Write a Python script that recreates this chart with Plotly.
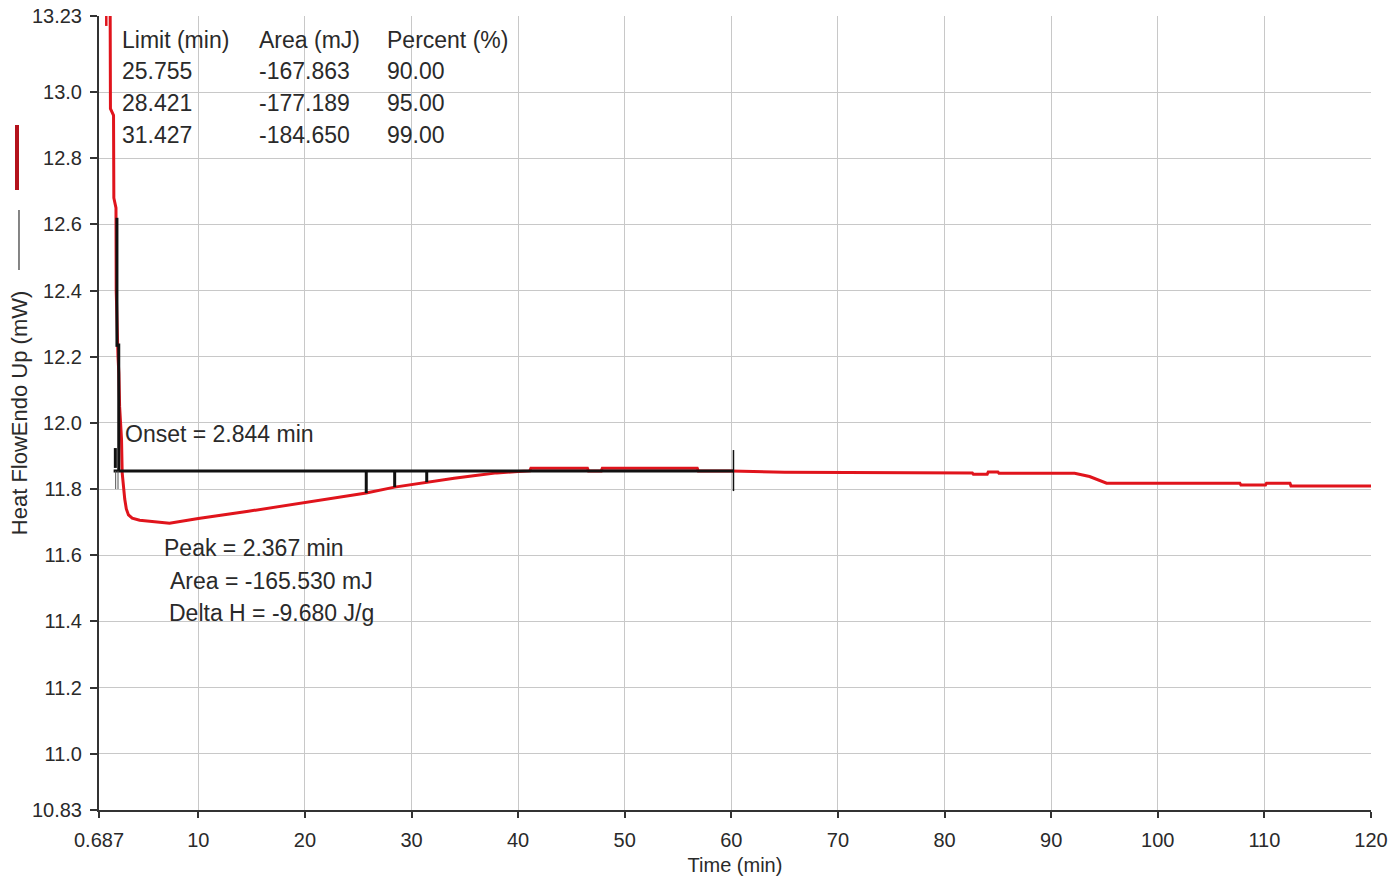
import plotly.graph_objects as go
import numpy as np

# ---- data ----
time_min = [1.72, 1.76, 2.05, 2.08, 2.28, 2.30, 2.47, 2.55, 2.62, 2.80,
            2.86, 2.97, 3.1, 3.25, 3.45, 3.8, 4.5, 7.3, 10, 14.7,
            20, 23.3, 25.755, 28.421, 31.427, 34, 36, 38, 40, 41.1,
            41.2, 46.5, 46.6, 47.8, 47.9, 56.8, 56.9, 60, 65, 70,
            82.6, 82.7, 84.0, 84.1, 85.0, 85.1, 92.2, 93.6, 95.2, 107.7,
            107.8, 110.1, 110.2, 112.4, 112.5, 120]
heat_flow = [13.40, 12.95, 12.93, 12.68, 12.65, 12.40, 12.20, 12.15, 12.05, 11.95,
             11.85, 11.80, 11.77, 11.74, 11.722, 11.712, 11.706, 11.697, 11.711, 11.733,
             11.759, 11.774, 11.788, 11.806, 11.821, 11.833, 11.841, 11.849, 11.853, 11.855,
             11.863, 11.863, 11.855, 11.855, 11.863, 11.863, 11.855, 11.855, 11.851, 11.850,
             11.849, 11.845, 11.845, 11.852, 11.852, 11.848, 11.848, 11.838, 11.818, 11.818,
             11.812, 11.812, 11.818, 11.818, 11.809, 11.809]

baseline_start = 2.06
baseline_end = 60.2
baseline_value = 11.855

limits_min = [25.755, 28.421, 31.427]
areas_mJ = ["-167.863", "-177.189", "-184.650"]
percents = ["90.00", "95.00", "99.00"]

x_tickvals = [0.687, 10, 20, 30, 40, 50, 60, 70, 80, 90, 100, 110, 120]
x_ticktext = ["0.687", "10", "20", "30", "40", "50", "60", "70", "80", "90", "100", "110", "120"]
y_tickvals = [10.83, 11.0, 11.2, 11.4, 11.6, 11.8, 12.0, 12.2, 12.4, 12.6, 12.8, 13.0, 13.23]
y_ticktext = ["10.83", "11.0", "11.2", "11.4", "11.6", "11.8", "12.0", "12.2", "12.4", "12.6", "12.8", "13.0", "13.23"]

RED = "#e0141c"
BLACK = "#111111"
TXT = "#2a2a2a"
FONT = "Arial, Liberation Sans, sans-serif"

fig = go.Figure()

# main heat-flow curve
fig.add_trace(go.Scatter(x=time_min, y=heat_flow, mode="lines",
                         line=dict(color=RED, width=3, shape="linear"), hoverinfo="skip"))
# small red fragment at the very top-left
fig.add_trace(go.Scatter(x=[1.37, 1.37], y=[13.30, 13.20], mode="lines",
                         line=dict(color=RED, width=2.5), hoverinfo="skip"))

# baseline
fig.add_trace(go.Scatter(x=[baseline_start, baseline_end], y=[baseline_value, baseline_value],
                         mode="lines", line=dict(color=BLACK, width=3), hoverinfo="skip"))
# right end marker of baseline
fig.add_trace(go.Scatter(x=[baseline_end, baseline_end], y=[11.918, 11.794],
                         mode="lines", line=dict(color=BLACK, width=1.5), hoverinfo="skip"))
# limit ticks from baseline down to the curve
for lm in limits_min:
    yv = float(np.interp(lm, time_min, heat_flow))
    fig.add_trace(go.Scatter(x=[lm, lm], y=[baseline_value, yv], mode="lines",
                             line=dict(color=BLACK, width=3), hoverinfo="skip"))
# peak / onset markers near the start
fig.add_trace(go.Scatter(x=[2.37, 2.37], y=[12.62, 12.23], mode="lines",
                         line=dict(color=BLACK, width=3), hoverinfo="skip"))
fig.add_trace(go.Scatter(x=[2.54, 2.54], y=[12.24, baseline_value], mode="lines",
                         line=dict(color=BLACK, width=3), hoverinfo="skip"))
fig.add_trace(go.Scatter(x=[2.22, 2.22], y=[11.924, 11.864], mode="lines",
                         line=dict(color=BLACK, width=3), hoverinfo="skip"))
for xv in [2.25, 2.47]:
    fig.add_trace(go.Scatter(x=[xv, xv], y=[baseline_value, 11.80], mode="lines",
                             line=dict(color="#555555", width=1), hoverinfo="skip"))

annotations = []

def txt(x, y, s, size=23):
    annotations.append(dict(x=x, y=y, xref="x", yref="y", text=s, showarrow=False,
                            xanchor="left", yanchor="middle",
                            font=dict(family=FONT, size=size, color=TXT)))

# results table
col_x = [2.66, 15.51, 27.51]
row_y = [13.157, 13.064, 12.967, 12.870]
txt(col_x[0], row_y[0], "Limit (min)")
txt(col_x[1], row_y[0], "Area (mJ)")
txt(col_x[2], row_y[0], "Percent (%)")
for i in range(3):
    txt(col_x[0], row_y[i + 1], f"{limits_min[i]:.3f}")
    txt(col_x[1], row_y[i + 1], areas_mJ[i])
    txt(col_x[2], row_y[i + 1], percents[i])

txt(2.94, 11.966, "Onset = 2.844 min")
txt(6.60, 11.622, "Peak = 2.367 min")
txt(7.16, 11.522, "Area = -165.530 mJ")
txt(7.07, 11.425, "Delta H = -9.680 J/g")

# y-axis title as rotated annotation
annotations.append(dict(x=-0.0629, y=0.501, xref="paper", yref="paper",
                        text="Heat FlowEndo Up (mW)", showarrow=False, textangle=-90,
                        xanchor="center", yanchor="middle",
                        font=dict(family=FONT, size=22, color=TXT)))

shapes = [
    # black legend line after the y title
    dict(type="line", xref="paper", yref="paper", x0=-0.0629, x1=-0.0629,
         y0=(810 - 270) / 794, y1=(810 - 210) / 794, line=dict(color="#333333", width=1.2)),
    # red legend bar
    dict(type="line", xref="paper", yref="paper", x0=(17 - 99) / 1272, x1=(17 - 99) / 1272,
         y0=(810 - 190) / 794, y1=(810 - 125) / 794, line=dict(color="#b3121c", width=4)),
]

fig.update_layout(
    width=1392, height=881,
    margin=dict(l=99, r=21, t=16, b=71, autoexpand=False),
    paper_bgcolor="white", plot_bgcolor="white",
    showlegend=False,
    annotations=annotations,
    shapes=shapes,
    xaxis=dict(range=[0.687, 120], tickvals=x_tickvals, ticktext=x_ticktext,
               automargin=False,
               showgrid=True, gridcolor="#c8c8c8", gridwidth=1,
               showline=True, linecolor="#333333", linewidth=2,
               ticks="outside", ticklen=6, tickcolor="#333333", tickwidth=1.5,
               tickfont=dict(family=FONT, size=20, color=TXT),
               ticklabelstandoff=5,
               title=dict(text="Time (min)", font=dict(family=FONT, size=20, color=TXT),
                          standoff=8),
               zeroline=False),
    yaxis=dict(range=[10.83, 13.23], tickvals=y_tickvals, ticktext=y_ticktext,
               automargin=False,
               showgrid=True, gridcolor="#c8c8c8", gridwidth=1,
               showline=True, linecolor="#333333", linewidth=2,
               ticks="outside", ticklen=7, tickcolor="#333333", tickwidth=1.5,
               tickfont=dict(family=FONT, size=20, color=TXT),
               ticklabelstandoff=4,
               zeroline=False),
)

fig.write_html("out.html", config={"displayModeBar": False},
               post_script="document.body.style.margin='0';document.body.style.overflow='hidden';")
